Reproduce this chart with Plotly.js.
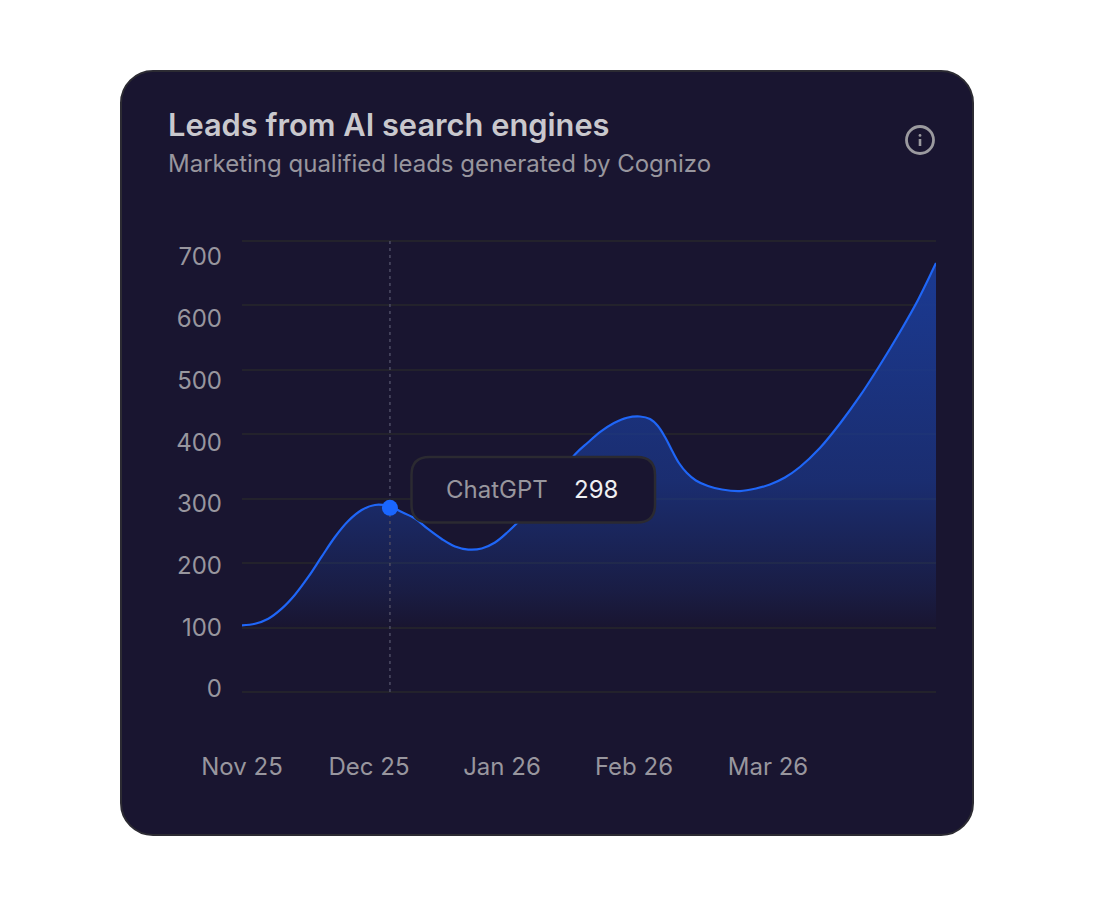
<!DOCTYPE html>
<html>
<head>
<meta charset="utf-8">
<script src="https://cdn.plot.ly/plotly-3.0.1.min.js"></script>
<style>
html,body{margin:0;padding:0;background:#fff;width:1096px;height:904px;overflow:hidden}
#card{position:absolute;left:120px;top:70px;width:850px;height:762px;border:2px solid #2c2b33;border-radius:33px;background:#191530}
#chart{position:absolute;left:0;top:0;width:1096px;height:904px}
</style>
</head>
<body>
<div id="card"></div>
<div id="chart"></div>
<script>
const titleText = "Leads from AI search engines";
const subtitleText = "Marketing qualified leads generated by Cognizo";
const monthLabels = ["Nov 25","Dec 25","Jan 26","Feb 26","Mar 26"];
const monthTicks = [0,0.966,1.977,2.981,4];
const valueTicks = [0,100,200,300,400,500,600,700];
const gridTicks = [0,100,200,300,400,500,600,700];
const curveX = [0,.099,.200,.302,.403,.504,.606,.707,.808,.910,1.011,1.113,1.215,1.316,1.414,1.519,1.620,1.721,1.823,1.924,2.025,2.127,2.228,2.380,2.532,2.631,2.730,2.829,2.928,3.027,3.103,3.163,3.217,3.270,3.323,3.384,3.452,3.544,3.650,3.787,3.909,4.015,4.129,4.243,4.395,4.548,4.700,4.852,5.004,5.141,5.278];
const curveY = [101.6,104.2,112.3,128.6,151.2,179.9,212.8,244.7,270.6,288.4,296.6,294.9,285.2,274.7,257.7,241.5,229.3,224.4,226.1,235.8,253.6,274.7,296.6,335.4,378.4,397.8,415.7,429.4,438,440,435.9,424.6,406.7,384.9,364.6,348.4,336.3,327.3,321.7,319.2,323.3,329.8,341.1,358.1,388.9,428.6,473.2,523.4,576.9,628.8,688.7];
const fillBaseX = [0,5.278];
const fillBaseY = [97,97];
const seriesName = "ChatGPT";
const seriesValue = "298";
const focusX = [1.125];
const focusY = [292];
const focusRuleY = [-6.5,724.4];

const W = 1096, H = 904;
const px = v => v / W, py = v => 1 - v / H;

function roundedRect(l,t,r,b,c){
  const P = (x,y) => px(x) + "," + py(y);
  return "M" + P(l+c,t) + " L" + P(r-c,t) + " Q" + P(r,t) + " " + P(r,t+c) +
         " L" + P(r,b-c) + " Q" + P(r,b) + " " + P(r-c,b) +
         " L" + P(l+c,b) + " Q" + P(l,b) + " " + P(l,b-c) +
         " L" + P(l,t+c) + " Q" + P(l,t) + " " + P(l+c,t) + " Z";
}
const paperShape = o => Object.assign({xref:"paper",yref:"paper"},o);
const FONT = "Inter, 'Noto Sans', sans-serif";

const traces = [
  {x:[null],y:[null],xaxis:"x",yaxis:"y",mode:"lines",hoverinfo:"skip",showlegend:false},
  {x:fillBaseX,y:fillBaseY,xaxis:"x",yaxis:"y2",mode:"lines",line:{width:0},hoverinfo:"skip",showlegend:false},
  {x:curveX,y:curveY,xaxis:"x",yaxis:"y2",mode:"lines",name:seriesName,
   line:{color:"#1f66f7",width:2.2,shape:"spline",smoothing:1},
   fill:"tonexty",
   fillgradient:{type:"vertical",start:97,stop:688.7,colorscale:[
     [0,"rgba(27,58,146,0)"],[0.1,"rgba(27,58,146,0.2)"],[0.4,"rgba(27,58,146,0.65)"],[1,"rgba(27,58,146,1)"]]},
   hoverinfo:"skip",showlegend:false},
  {x:[focusX[0],focusX[0]],y:focusRuleY,xaxis:"x",yaxis:"y2",mode:"lines",
   line:{color:"#4a4960",width:1.6,dash:"3px,4px"},hoverinfo:"skip",showlegend:false},
  {x:focusX,y:focusY,xaxis:"x",yaxis:"y2",mode:"markers",
   marker:{color:"#1a66ff",size:16,line:{width:0}},hoverinfo:"skip",showlegend:false}
];

const layout = {
  width:W,height:H,margin:{l:0,r:0,t:0,b:0},
  paper_bgcolor:"rgba(0,0,0,0)",plot_bgcolor:"rgba(0,0,0,0)",
  font:{family:FONT,color:"#98969e"},
  showlegend:false,hovermode:false,
  title:{text:titleText,x:px(168),xanchor:"left",y:py(125),yanchor:"middle",
         font:{family:FONT,size:30.8,weight:600,color:"#c9c8cd"}},
  xaxis:{domain:[px(242),px(936)],range:[0,5.278],tickmode:"array",tickvals:monthTicks,ticktext:monthLabels,
         showgrid:false,zeroline:false,showline:false,ticks:"",ticklabelstandoff:56,
         tickfont:{family:FONT,size:24,color:"#98969e"},anchor:"y"},
  yaxis:{domain:[py(694),py(239)],range:[-3,703],tickmode:"array",tickvals:gridTicks,showticklabels:false,
         showgrid:true,gridcolor:"#23222c",gridwidth:2,zeroline:false,showline:false,ticks:"",anchor:"x"},
  yaxis2:{domain:[py(694),py(239)],range:[-9.7,727.6],overlaying:"y",side:"left",anchor:"x",tickmode:"array",tickvals:valueTicks,
         showgrid:false,zeroline:false,showline:false,ticks:"",ticklabelstandoff:19,ticklabelshift:1,
         tickfont:{family:FONT,size:24,color:"#98969e"}},
  shapes:[
    paperShape({type:"path",path:roundedRect(411.5,457,655,522.5,18),fillcolor:"#191530",line:{color:"#2b2a31",width:2.5},layer:"above"}),
    paperShape({type:"circle",x0:px(906.5),x1:px(933.5),y0:py(153.5),y1:py(126.5),line:{color:"#9b9a9f",width:2.8},layer:"above"}),
    paperShape({type:"line",x0:px(920),x1:px(920),y0:py(139),y1:py(146),line:{color:"#9b9a9f",width:2.6},layer:"above"}),
    paperShape({type:"circle",x0:px(918.6),x1:px(921.4),y0:py(136.8),y1:py(134),fillcolor:"#9b9a9f",line:{width:0},layer:"above"})
  ],
  annotations:[
    {xref:"paper",yref:"paper",x:px(166),y:py(163.5),xanchor:"left",yanchor:"middle",showarrow:false,text:subtitleText,
     font:{family:FONT,size:24,color:"#98969e"}},
    {xref:"paper",yref:"paper",x:px(444),y:py(489),xanchor:"left",yanchor:"middle",showarrow:false,text:seriesName,
     font:{family:FONT,size:24,color:"#98969e"}},
    {xref:"paper",yref:"paper",x:px(572),y:py(489),xanchor:"left",yanchor:"middle",showarrow:false,text:seriesValue,
     font:{family:FONT,size:24,color:"#efeff2"}}
  ]
};
Plotly.newPlot("chart",traces,layout,{displayModeBar:false,staticPlot:true});
</script>
</body>
</html>
